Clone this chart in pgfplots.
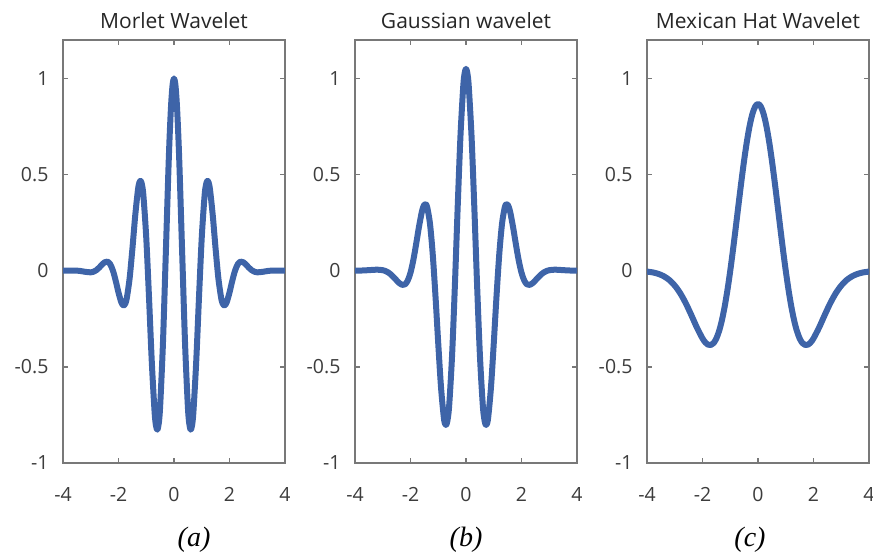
\documentclass[border=0pt]{standalone}
\usepackage{pgfplots}
\pgfplotsset{compat=1.18}
\usepackage{fontspec}
\setmainfont{Open Sans}
\newfontfamily\serifit{Liberation Serif}
\definecolor{wblue}{RGB}{62,100,168}
\definecolor{axgray}{RGB}{120,120,120}
\definecolor{lblgray}{RGB}{60,60,60}
\pgfplotsset{
  wave/.style={
    scale only axis, width=222bp, height=423bp, anchor=south west,
    xmin=-4, xmax=4, ymin=-1, ymax=1.2,
    xtick={-4,-2,0,2,4}, xticklabels={-4,-2,0,2,4},
    ytick={-1,-0.5,0,0.5,1}, yticklabels={-1,-0.5,0,0.5,1},
    tick align=inside, tick pos=both,
    major tick length=5bp,
    axis line style={axgray, line width=1.4bp},
    every tick/.style={axgray, line width=1.4bp},
    ticklabel style={font=\fontsize{19.5bp}{22bp}\selectfont, text=lblgray},
    xticklabel style={yshift=-21bp},
    yticklabel style={xshift=-11bp},
    title style={font=\fontsize{21bp}{24bp}\selectfont, yshift=2bp, text=black!85},
  },
  wline/.style={wblue, line width=6bp, smooth, no marks, line join=round, line cap=round},
}
\begin{document}
\begin{tikzpicture}
\useasboundingbox (0,0) rectangle (873bp,558bp);
\begin{axis}[wave, at={(63bp,95bp)}, title={Morlet Wavelet}]
\addplot[wline] coordinates {
(-4.0,0.0001)(-3.8,0.0007)(-3.6,0.0010)(-3.4,-0.0009)(-3.2,-0.0057)(-3.0,-0.0084)
(-2.9,-0.0053)(-2.8,0.0027)(-2.7,0.0155)(-2.6,0.0309)(-2.5,0.0438)(-2.4,0.0474)
(-2.3,0.0343)(-2.2,0.0004)(-2.1,-0.0524)(-2.0,-0.1136)(-1.9,-0.1640)(-1.85,-0.1779)(-1.8,-0.1803)(-1.75,-0.1696)
(-1.7,-0.1419)(-1.6,-0.0405)(-1.5,0.1125)(-1.4,0.2830)(-1.3,0.4195)(-1.25,0.4576)(-1.2,0.4674)(-1.15,0.4446)
(-1.1,0.3870)(-1.0,0.1721)(-0.9,-0.1406)(-0.8,-0.4746)(-0.7,-0.7330)(-0.65,-0.8048)(-0.6,-0.8269)(-0.55,-0.7946)
(-0.5,-0.7070)(-0.4,-0.3842)(-0.3,0.0676)(-0.2,0.5296)(-0.15,0.7235)(-0.1,0.8732)(-0.05,0.9677)(0,1)
(0.05,0.9677)(0.1,0.8732)(0.15,0.7235)(0.2,0.5296)(0.3,0.0676)(0.4,-0.3842)(0.5,-0.7070)(0.55,-0.7946)(0.6,-0.8269)(0.65,-0.8048)
(0.7,-0.7330)(0.8,-0.4746)(0.9,-0.1406)(1.0,0.1721)(1.1,0.3870)(1.15,0.4446)(1.2,0.4674)(1.25,0.4576)
(1.3,0.4195)(1.4,0.2830)(1.5,0.1125)(1.6,-0.0405)(1.7,-0.1419)(1.75,-0.1696)(1.8,-0.1803)(1.85,-0.1779)
(1.9,-0.1640)(2.0,-0.1136)(2.1,-0.0524)(2.2,0.0004)(2.3,0.0343)(2.4,0.0474)
(2.5,0.0438)(2.6,0.0309)(2.7,0.0155)(2.8,0.0027)(2.9,-0.0053)(3.0,-0.0084)
(3.2,-0.0057)(3.4,-0.0009)(3.6,0.0010)(3.8,0.0007)(4.0,0.0001)
};
\end{axis}
\begin{axis}[wave, at={(355bp,95bp)}, title={Gaussian wavelet}]
\addplot[wline] coordinates {
(-4.0,0.0002)(-3.8,0.0008)(-3.6,0.0022)(-3.4,0.0040)(-3.2,0.0054)(-3.0,0.0028)
(-2.9,-0.0017)(-2.8,-0.0092)(-2.7,-0.0203)(-2.6,-0.0345)(-2.5,-0.0503)(-2.4,-0.0649)
(-2.3,-0.0737)(-2.2,-0.0712)(-2.1,-0.0514)(-2.0,-0.0101)(-1.9,0.0537)(-1.8,0.1354)
(-1.7,0.2237)(-1.6,0.3005)(-1.55,0.3277)(-1.5,0.3437)(-1.45,0.3455)(-1.4,0.3312)(-1.3,0.2470)(-1.2,0.0881)
(-1.1,-0.1317)(-1.0,-0.3789)(-0.9,-0.6069)(-0.8,-0.7623)(-0.75,-0.7976)(-0.7,-0.7985)(-0.65,-0.7625)(-0.6,-0.6887)
(-0.5,-0.4356)(-0.4,-0.0750)(-0.3,0.3294)(-0.2,0.6988)(-0.1,0.9572)(-0.05,1.0265)(0,1.05)
(0.05,1.0265)(0.1,0.9572)(0.2,0.6988)(0.3,0.3294)(0.4,-0.0750)(0.5,-0.4356)(0.6,-0.6887)(0.65,-0.7625)
(0.7,-0.7985)(0.75,-0.7976)(0.8,-0.7623)(0.9,-0.6069)(1.0,-0.3789)(1.1,-0.1317)(1.2,0.0881)
(1.3,0.2470)(1.4,0.3312)(1.45,0.3455)(1.5,0.3437)(1.55,0.3277)(1.6,0.3005)(1.7,0.2237)(1.8,0.1354)
(1.9,0.0537)(2.0,-0.0101)(2.1,-0.0514)(2.2,-0.0712)(2.3,-0.0737)(2.4,-0.0649)
(2.5,-0.0503)(2.6,-0.0345)(2.7,-0.0203)(2.8,-0.0092)(2.9,-0.0017)(3.0,0.0028)
(3.2,0.0054)(3.4,0.0040)(3.6,0.0022)(3.8,0.0008)(4.0,0.0002)
};
\end{axis}
\begin{axis}[wave, at={(647bp,95bp)}, title={Mexican Hat Wavelet}]
\addplot[wline] coordinates {
(-4.0,-0.0044)(-3.8,-0.0085)(-3.6,-0.0159)(-3.4,-0.0283)(-3.2,-0.0479)(-3.0,-0.0771)
(-2.8,-0.1177)(-2.6,-0.1701)(-2.4,-0.2317)(-2.2,-0.2961)(-2.0,-0.3521)(-1.9,-0.3723)
(-1.8,-0.3845)(-1.7,-0.3864)(-1.6,-0.3762)(-1.5,-0.3520)(-1.4,-0.3125)(-1.3,-0.2571)
(-1.2,-0.1858)(-1.1,-0.0995)(-1.0,0)(-0.9,0.1099)(-0.8,0.2267)(-0.7,0.3462)
(-0.6,0.4636)(-0.5,0.5741)(-0.4,0.6725)(-0.3,0.7545)(-0.2,0.8161)(-0.1,0.8543)(0,0.8673)
(0.1,0.8543)(0.2,0.8161)(0.3,0.7545)(0.4,0.6725)(0.5,0.5741)(0.6,0.4636)
(0.7,0.3462)(0.8,0.2267)(0.9,0.1099)(1.0,0)(1.1,-0.0995)(1.2,-0.1858)
(1.3,-0.2571)(1.4,-0.3125)(1.5,-0.3520)(1.6,-0.3762)(1.7,-0.3864)(1.8,-0.3845)
(1.9,-0.3723)(2.0,-0.3521)(2.2,-0.2961)(2.4,-0.2317)(2.6,-0.1701)(2.8,-0.1177)
(3.0,-0.0771)(3.2,-0.0479)(3.4,-0.0283)(3.6,-0.0159)(3.8,-0.0085)(4.0,-0.0044)
};
\end{axis}
\node[font=\serifit\itshape\fontsize{28bp}{32bp}\selectfont] at (194bp,18bp) {(a)};
\node[font=\serifit\itshape\fontsize{28bp}{32bp}\selectfont] at (466bp,18bp) {(b)};
\node[font=\serifit\itshape\fontsize{28bp}{32bp}\selectfont] at (750bp,18bp) {(c)};
\end{tikzpicture}
\end{document}
